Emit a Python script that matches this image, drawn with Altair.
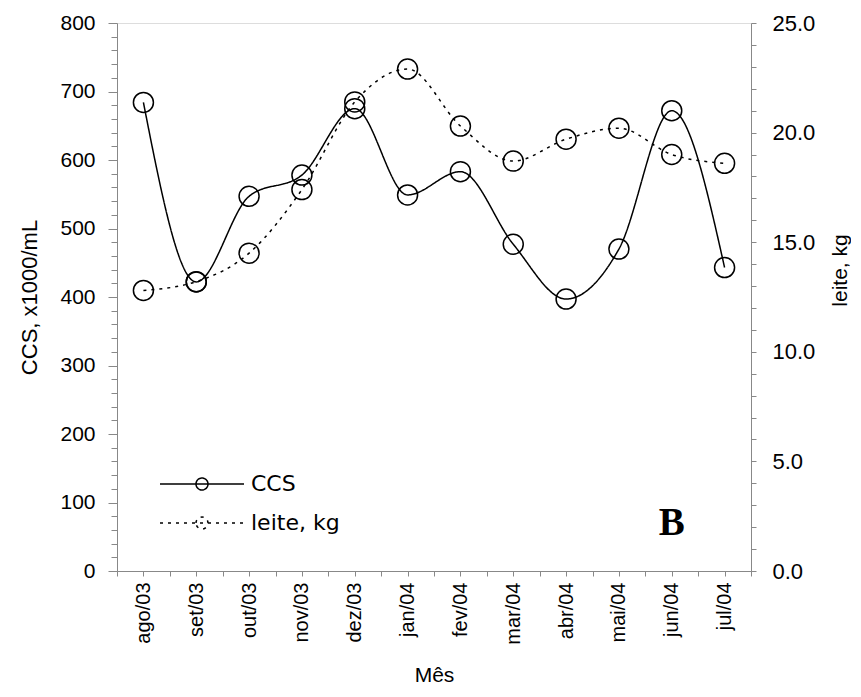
import altair as alt
import pandas as pd

# ---- data ----
months = ["ago/03", "set/03", "out/03", "nov/03", "dez/03", "jan/04",
          "fev/04", "mar/04", "abr/04", "mai/04", "jun/04", "jul/04"]
ccs = [684, 422, 547, 578, 675, 549, 583, 477, 397, 470, 672, 443]
leite = [12.8, 13.2, 14.5, 17.4, 21.4, 22.9, 20.3, 18.7, 19.7, 20.2, 19.0, 18.6]
series_names = ["CCS", "leite, kg"]

# panel letter annotation (placed in data units: month index, CCS units)
note_text = ["B"]
note_idx = [10]
note_ccs = [70]

idx = list(range(len(months)))
df_ccs = pd.DataFrame({"idx": idx, "mes": months, "value": ccs, "serie": series_names[0]})
df_leite = pd.DataFrame({"idx": idx, "mes": months, "value": leite, "serie": series_names[1]})
df_note = pd.DataFrame({"idx": note_idx, "value": note_ccs, "txt": note_text})

FONT = "DejaVu Sans"

month_arr = "[" + ",".join("'%s'" % m for m in months) + "]"
x_label_expr = "datum.value %% 1 === 0 ? %s[datum.value] : ''" % month_arr

x_enc = alt.X(
    "idx:Q",
    scale=alt.Scale(domain=[-0.5, len(months) - 0.5], nice=False, zero=False),
    axis=alt.Axis(
        title="Mês",
        values=[i / 2 for i in range(-1, 2 * len(months))],
        labelExpr=x_label_expr,
        labelAngle=270,
        labelOverlap=False,
        tickSize=5,
        grid=False,
        labelFontSize=20,
        titleFontSize=21,
        titleFontWeight="normal",
        labelPadding=6,
        titlePadding=20,
    ),
)

y_left = alt.Y(
    "value:Q",
    scale=alt.Scale(domain=[0, 800], nice=False),
    axis=alt.Axis(
        title="CCS, x1000/mL",
        values=list(range(0, 801, 20)),
        labelExpr="datum.value % 100 === 0 ? datum.label : ''",
        labelOverlap=False,
        tickSize={"condition": {"test": "datum.value % 100 === 0", "value": 9}, "value": 6},
        grid=False,
        labelFontSize=21,
        titleFontSize=22,
        titleFontWeight="normal",
        labelPadding=13,
        titlePadding=18,
    ),
)

y_right = alt.Y(
    "value:Q",
    scale=alt.Scale(domain=[0, 25], nice=False),
    axis=alt.Axis(
        title="leite, kg",
        orient="right",
        values=[float(v) for v in range(0, 26)],
        labelExpr="datum.value % 5 === 0 ? format(datum.value, '.1f') : ''",
        labelOverlap=False,
        tickSize=5,
        grid=False,
        labelFontSize=22,
        titleFontSize=21,
        titleFontWeight="normal",
        labelPadding=16,
        titleAngle=270,
        titleX=89,
        titleY=247,
        titleAlign="center",
        titleBaseline="middle",
    ),
)

legend_path = ("M-2.8,0L2.8,0M-0.4,0A0.4,0.4 0 1,1 0.4,0"
               "A0.4,0.4 0 1,1 -0.4,0")

dash = alt.StrokeDash(
    "serie:N",
    scale=alt.Scale(domain=series_names, range=[[1, 0], [3, 5]]),
    legend=alt.Legend(
        title=None,
        orient="none",
        legendX=69,
        legendY=445,
        padding=0,
        symbolType=legend_path,
        symbolSize=900,
        symbolStrokeColor="black",
        symbolStrokeWidth=1.5,
        symbolFillColor="transparent",
        labelFont=FONT,
        labelFontSize=22,
        labelOffset=33,
        rowPadding=12,
        labelColor="black",
    ),
)

ccs_line = alt.Chart(df_ccs).mark_line(
    interpolate="monotone", color="black", strokeWidth=1.5
).encode(x=x_enc, y=y_left, strokeDash=dash)
ccs_pts = alt.Chart(df_ccs).mark_point(
    shape="circle", size=400, filled=False, color="black", strokeWidth=1.5, opacity=1
).encode(x=x_enc, y=y_left)
note = alt.Chart(df_note).mark_text(
    font="Liberation Serif", fontWeight="bold", fontSize=39, color="black"
).encode(x=x_enc, y=y_left, text="txt:N")

leite_line = alt.Chart(df_leite).mark_line(
    interpolate="monotone", color="black", strokeWidth=1.5
).encode(x=x_enc, y=y_right, strokeDash=dash)
leite_pts = alt.Chart(df_leite).mark_point(
    shape="circle", size=400, filled=False, color="black", strokeWidth=1.5, opacity=1
).encode(x=x_enc, y=y_right)

chart = (
    alt.layer(
        alt.layer(ccs_line, ccs_pts, note),
        alt.layer(leite_line, leite_pts),
    )
    .resolve_scale(y="independent")
    .properties(
        width=634,
        height=548,
        autosize=alt.AutoSizeParams(type="none"),
        padding={"left": 109, "top": 15, "right": 100, "bottom": 116},
    )
    .configure_view(stroke=None)
    .configure_axis(
        labelFont=FONT,
        titleFont=FONT,
        labelColor="black",
        titleColor="black",
        domainColor="black",
        tickColor="black",
        titleFontWeight="normal",
    )
    .configure(background="white")
)

chart.save("out.html", embed_options={"renderer": "svg", "actions": False})
